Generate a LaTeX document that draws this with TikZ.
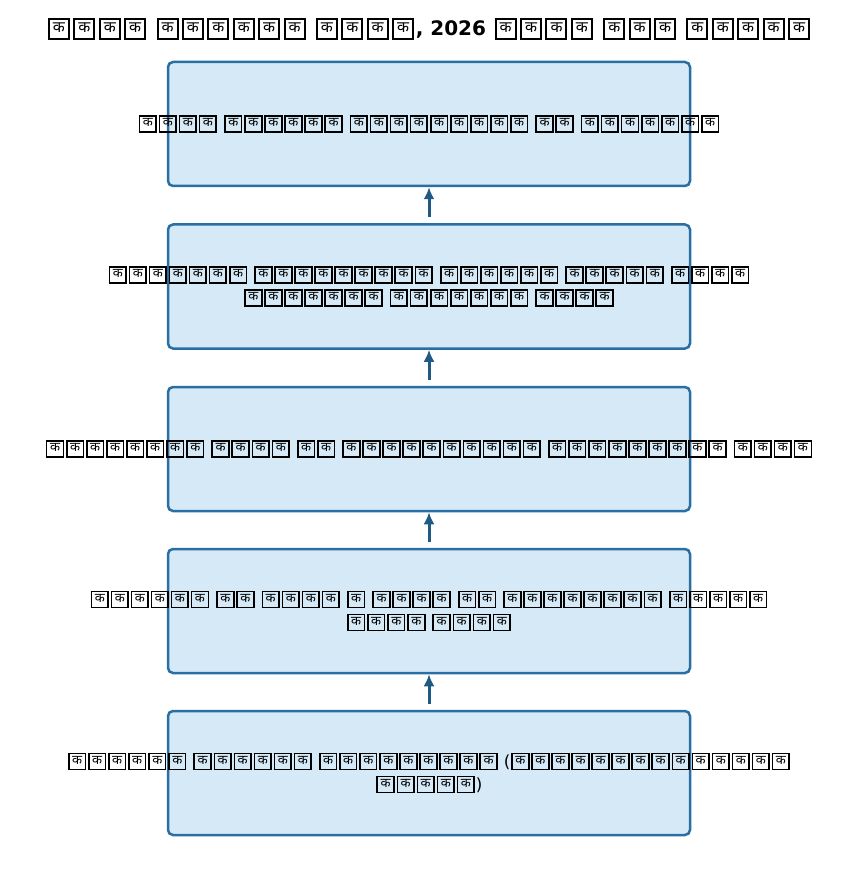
\documentclass[tikz,border=0pt]{standalone}
\usepackage{fontspec}
\setmainfont{DejaVu Sans}
\newfontfamily\dvfont[Script=Devanagari]{Noto Sans}
\usepackage{graphicx}
\usetikzlibrary{arrows.meta}
\definecolor{boxfill}{HTML}{D6E9F6}
\definecolor{boxline}{HTML}{2A6FA3}
\definecolor{arrline}{HTML}{1F5A85}

% one boxed glyph, and a word of them
\makeatletter
\def\kgap{0.05em}
\newcommand\kbox[1]{\kern\kgap\relax{\fboxsep=0pt\fboxrule=0.1em\fbox{\makebox[0.9em]{\rule[-0.1em]{0pt}{0.86em}\raisebox{0.16em}{\scalebox{0.78}{\dvfont #1}}}}}\kern\kgap\relax}
\newcommand\kw[1]{\kw@loop#1\@nil}
\def\kw@loop#1{\ifx#1\@nil\else\kbox{#1}\expandafter\kw@loop\fi}
\makeatother

\begin{document}
\begin{tikzpicture}[>=Latex,x=1pt,y=-1pt,
  every node/.style={font=\fontsize{16.7}{23}\selectfont},
  stage/.style={draw=boxline,fill=boxfill,line width=2.5pt,rounded corners=5pt,minimum width=522pt,minimum height=124pt},
  flow/.style={draw=arrline,line width=3pt,-{Latex[length=12pt,width=11pt]},shorten <=6pt}]
\useasboundingbox (0,0) rectangle (858,877);
\node[font=\fontsize{20}{24}\selectfont\bfseries\def\kgap{0.085em}] (title) at (429,29) {\kw{कककक} \kw{कककककक} \kw{कककक}, 2026 \kw{कककक} \kw{ककक} \kw{ककककक}};
\node[stage] (box1) at (429,124) {};
\node[stage] (box2) at (429,286.5) {};
\node[stage] (box3) at (429,449) {};
\node[stage] (box4) at (429,611) {};
\node[stage] (box5) at (429,773) {};
\node (txt1) at (box1) {\kw{कककक} \kw{कककककक} \kw{ककककककककक} \kw{कक} \kw{ककककककक}};
\node[align=center] (txt2) at (box2) {\kw{ककककककक} \kw{ककककककककक} \kw{कककककक} \kw{ककककक} \kw{कककक}\\\kw{ककककककक} \kw{ककककककक} \kw{कककक}};
\node (txt3) at (box3) {\kw{कककककककक} \kw{कककक} \kw{कक} \kw{कककककककककक} \kw{ककककककककक} \kw{कककक}};
\node[align=center] (txt4) at (box4) {\kw{कककककक} \kw{कक} \kw{कककक} \kw{क} \kw{कककक} \kw{कक} \kw{कककककककक} \kw{ककककक}\\\kw{कककक} \kw{कककक}};
\node[align=center] (txt5) at (box5) {\kw{कककककक} \kw{कककककक} \kw{ककककककककक} (\kw{कककककककककककककक}\\\kw{ककककक})};
\draw[flow] (box5.north) -- (box4.south);
\draw[flow] (box4.north) -- (box3.south);
\draw[flow] (box3.north) -- (box2.south);
\draw[flow] (box2.north) -- (box1.south);
\end{tikzpicture}
\end{document}
